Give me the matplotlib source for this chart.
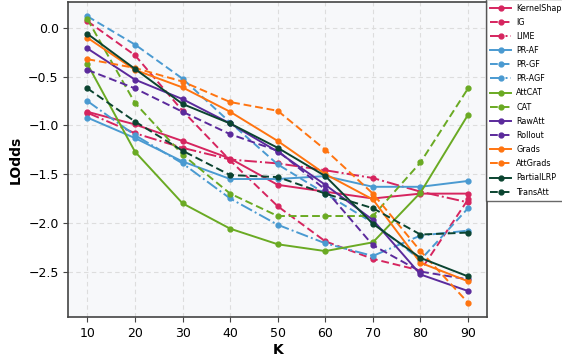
import matplotlib
matplotlib.use("Agg")
import matplotlib.pyplot as plt

K = [10, 20, 30, 40, 50, 60, 70, 80, 90]

methods = ["KernelShap", "IG", "LIME", "PR-AF", "PR-GF", "PR-AGF", "AttCAT", "CAT",
           "RawAtt", "Rollout", "Grads", "AttGrads", "PartialLRP", "TransAtt"]

kernelshap = [-0.86, -0.99, -1.16, -1.34, -1.61, -1.68, -1.75, -1.70, -1.70]
ig         = [0.07, -0.28, -0.85, -1.36, -1.83, -2.19, -2.37, -2.49, -1.76]
lime       = [-0.87, -1.08, -1.23, -1.35, -1.39, -1.46, -1.54, -1.68, -1.79]
pr_af      = [-0.92, -1.13, -1.37, -1.55, -1.55, -1.52, -1.63, -1.63, -1.57]
pr_gf      = [0.12, -0.17, -0.52, -0.97, -1.40, -1.70, -2.00, -2.38, -1.85]
pr_agf     = [-0.75, -1.10, -1.39, -1.75, -2.02, -2.21, -2.34, -2.13, -2.08]
attcat     = [-0.37, -1.27, -1.80, -2.06, -2.22, -2.29, -2.20, -1.69, -0.89]
cat        = [0.09, -0.77, -1.30, -1.70, -1.93, -1.93, -1.93, -1.38, -0.62]
rawatt     = [-0.21, -0.53, -0.73, -0.98, -1.27, -1.61, -1.97, -2.53, -2.70]
rollout    = [-0.43, -0.62, -0.86, -1.09, -1.26, -1.66, -2.23, -2.50, -2.58]
grads      = [-0.10, -0.43, -0.61, -0.86, -1.16, -1.50, -1.76, -2.41, -2.60]
attgrads   = [-0.32, -0.41, -0.55, -0.76, -0.85, -1.25, -1.70, -2.29, -2.82]
partiallrp = [-0.06, -0.42, -0.78, -0.98, -1.23, -1.52, -2.01, -2.36, -2.55]
transatt   = [-0.62, -0.96, -1.26, -1.51, -1.53, -1.70, -1.85, -2.12, -2.10]

series = [kernelshap, ig, lime, pr_af, pr_gf, pr_agf, attcat, cat,
          rawatt, rollout, grads, attgrads, partiallrp, transatt]

c_pink = "#d6255f"
c_blue = "#4a9ad1"
c_green = "#6aaa23"
c_purple = "#5b2a9c"
c_orange = "#ff7410"
c_dkgreen = "#0b4430"
colors = [c_pink, c_pink, c_pink, c_blue, c_blue, c_blue, c_green, c_green,
          c_purple, c_purple, c_orange, c_orange, c_dkgreen, c_dkgreen]
styles = ["-", (0, (4, 2)), "-.", "-", (0, (4, 2)), "-.", "-", (0, (4, 2)),
          "-", (0, (4, 2)), "-", (0, (4, 2)), "-", (0, (4, 2))]

fig = plt.figure(figsize=(5.62, 3.64), dpi=100)
ax = fig.add_axes([0.1217, 0.129, 0.745, 0.8655])
ax.set_facecolor("#f7f8fa")

for name, vals, col, ls in zip(methods, series, colors, styles):
    ax.plot(K, vals, color=col, linestyle=ls, marker="o", markersize=3.5,
            linewidth=1.4, label=name)

ax.set_xticks(K)
ax.set_yticks([0.0, -0.5, -1.0, -1.5, -2.0, -2.5])
ax.grid(True, linestyle=(0, (4, 3)), color="#dddddd", linewidth=0.8)
ax.set_axisbelow(True)
for s in ax.spines.values():
    s.set_color("#444444")
    s.set_linewidth(1.2)
ax.tick_params(labelsize=9, color="#444444")
ax.set_xlabel("K", fontsize=10, fontweight="bold", labelpad=2)
ax.set_ylabel("LOdds", fontsize=10, fontweight="bold")

leg = ax.legend(loc="upper left", bbox_to_anchor=(0.998, 1.008), fontsize=5.8,
                frameon=True, fancybox=False, edgecolor="#444444",
                handlelength=2.6, handletextpad=0.6, borderaxespad=0.0,
                borderpad=0.5, labelspacing=0.64)
leg.get_frame().set_linewidth(1.0)

fig.savefig("out.png", dpi=100)
